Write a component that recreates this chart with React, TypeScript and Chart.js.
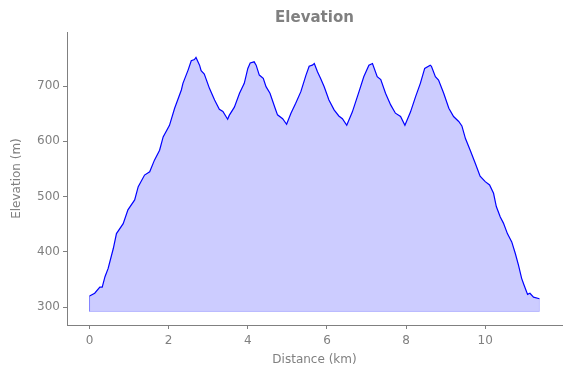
import React, { useEffect, useRef } from "react";
import { Chart, registerables } from "chart.js";

Chart.register(...registerables);

const distanceKm = [
  0.0, 0.13, 0.26, 0.32, 0.39, 0.47, 0.6, 0.68, 0.85, 0.97, 1.14, 1.23, 1.39, 1.52, 1.64, 1.77, 1.86, 2.02,
  2.15, 2.32, 2.36, 2.49, 2.57, 2.65, 2.69, 2.78, 2.82, 2.9, 3.03, 3.16, 3.28, 3.37, 3.49, 3.53, 3.66, 3.79,
  3.91, 4.0, 4.06, 4.16, 4.21, 4.29, 4.39, 4.46, 4.56, 4.69, 4.75, 4.88, 4.98, 5.09, 5.21, 5.34, 5.47, 5.55,
  5.63, 5.68, 5.76, 5.84, 5.93, 6.05, 6.18, 6.3, 6.39, 6.5, 6.64, 6.81, 6.93, 7.06, 7.15, 7.27, 7.36, 7.48,
  7.61, 7.73, 7.86, 7.97, 8.11, 8.24, 8.36, 8.47, 8.61, 8.64, 8.74, 8.82, 8.95, 9.08, 9.2, 9.33, 9.41, 9.5,
  9.62, 9.75, 9.87, 10.0, 10.11, 10.21, 10.28, 10.38, 10.46, 10.56, 10.67, 10.76, 10.84, 10.92, 10.98, 11.07,
  11.13, 11.22, 11.37,
];

const elevationM = [
  320, 325, 336, 336, 355, 370, 406, 433, 451, 476, 494, 518, 539, 545, 566, 584, 608, 629,
  660, 693, 705, 729, 746, 748, 752, 738, 728, 722, 696, 675, 658, 654, 640, 647, 662, 687,
  705, 732, 742, 744, 738, 720, 714, 699, 687, 660, 648, 641, 631, 651, 669, 690, 720, 736,
  738, 741, 726, 714, 699, 675, 657, 646, 641, 629, 653, 690, 717, 738, 741, 717, 712, 687,
  666, 651, 645, 629, 653, 681, 705, 732, 738, 736, 717, 711, 687, 660, 645, 636, 628, 605,
  584, 560, 537, 527, 521, 506, 482, 463, 452, 433, 418, 397, 376, 352, 340, 323,
  325, 318, 315,
];

const xTicks = [0, 2, 4, 6, 8, 10];
const yTicks = [300, 400, 500, 600, 700];
const fillBase = 292;
const chartTitle = "Elevation";

const GRAY = "#808080";
const FONT = "'DejaVu Sans', sans-serif";

const titlePlugin = {
  id: "centeredTitle",
  afterDraw(chart: any) {
    const { ctx, chartArea } = chart;
    ctx.save();
    ctx.fillStyle = GRAY;
    ctx.font = `bold 15px ${FONT}`;
    ctx.textAlign = "center";
    ctx.textBaseline = "middle";
    ctx.fillText(chartTitle, (chartArea.left + chartArea.right) / 2, 18);
    ctx.restore();
  },
};

export default function App() {
  const ref = useRef<HTMLCanvasElement>(null);

  useEffect(() => {
    if (!ref.current) return;
    const pts = distanceKm.map((d, i) => ({ x: d, y: elevationM[i] }));
    const first = distanceKm[0];
    const last = distanceKm[distanceKm.length - 1];
    const edge = [
      { x: first, y: elevationM[0] },
      { x: first, y: fillBase },
      { x: last, y: fillBase },
      { x: last, y: elevationM[elevationM.length - 1] },
    ];
    const chart = new Chart(ref.current, {
      type: "line",
      data: {
        datasets: [
          {
            data: edge,
            borderColor: "rgba(0,0,255,0.2)",
            borderWidth: 1,
            pointRadius: 0,
            fill: false,
            order: 2,
          },
          {
            data: pts,
            borderColor: "#0000ff",
            borderWidth: 1.2,
            pointRadius: 0,
            tension: 0,
            fill: { value: fillBase },
            backgroundColor: "rgba(0,0,255,0.2)",
            order: 1,
          },
        ],
      },
      options: {
        responsive: false,
        animation: false,
        devicePixelRatio: 1,
        layout: { padding: { left: 0, right: 9, top: 32, bottom: 0 } },
        plugins: {
          legend: { display: false },
          tooltip: { enabled: false },
          title: { display: false },
        },
        scales: {
          x: {
            type: "linear",
            min: -0.57,
            max: 11.94,
            afterBuildTicks: (s: any) => {
              s.ticks = xTicks.map((v) => ({ value: v }));
            },
            afterFit: (s: any) => {
              s.height = 53;
            },
            ticks: {
              color: GRAY,
              font: { family: FONT, size: 12 },
              padding: 5,
              maxRotation: 0,
            },
            grid: {
              display: true,
              drawOnChartArea: false,
              drawTicks: true,
              tickLength: 4,
              color: GRAY,
            },
            border: { display: true, color: GRAY, width: 1 },
            title: {
              display: true,
              text: "Distance (km)",
              color: GRAY,
              font: { family: FONT, size: 12 },
              padding: { top: 0, bottom: 11 },
            },
          },
          y: {
            type: "linear",
            min: 267.5,
            max: 798,
            afterBuildTicks: (s: any) => {
              s.ticks = yTicks.map((v) => ({ value: v }));
            },
            afterFit: (s: any) => {
              s.width = 67;
            },
            ticks: {
              color: GRAY,
              font: { family: FONT, size: 12 },
              padding: 3,
            },
            grid: {
              display: true,
              drawOnChartArea: false,
              drawTicks: true,
              tickLength: 4,
              color: GRAY,
            },
            border: { display: true, color: GRAY, width: 1 },
            title: {
              display: true,
              text: "Elevation (m)",
              color: GRAY,
              font: { family: FONT, size: 12 },
              padding: { top: 10, bottom: 0 },
            },
          },
        },
      },
      plugins: [titlePlugin],
    } as any);
    return () => chart.destroy();
  }, []);

  return (
    <div style={{ position: "absolute", left: 0, top: 0, width: 571, height: 378, background: "#fff" }}>
      <canvas ref={ref} width={571} height={378} style={{ display: "block" }} />
    </div>
  );
}
